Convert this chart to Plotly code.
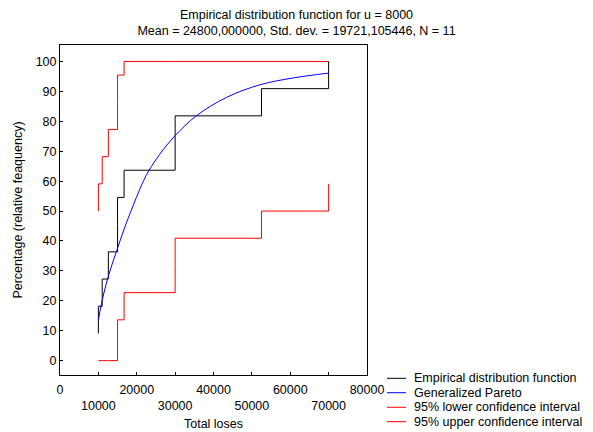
import plotly.graph_objects as go

# ---- data ----
losses = [10000, 10000, 11000, 12600, 15000, 15000, 16700, 30000, 30000, 52500, 70000]
ecdf_pct = [9.09, 18.18, 27.27, 36.36, 45.45, 54.55, 63.64, 72.73, 81.82, 90.91, 100.0]
lower_pct = [0.0, 0.0, 0.0, 0.0, 4.55, 13.64, 22.73, 31.82, 40.91, 50.0, 59.09]
upper_pct = [50.0, 59.09, 68.18, 77.27, 86.36, 95.45, 100.0, 100.0, 100.0, 100.0, 100.0]

pareto_x = [10000, 10800, 12500, 14700, 17000, 19900, 21800, 23200, 26000, 30000,
            35500, 43400, 52100, 60800, 70000]
pareto_pct = [13.5, 19.0, 27.8, 36.5, 45.0, 54.5, 60.2, 63.6, 69.0, 75.2,
              81.8, 88.0, 92.2, 94.5, 96.1]

x_ticks = [0, 10000, 20000, 30000, 40000, 50000, 60000, 70000, 80000]
x_ticktext = ["0", "<br>10000", "20000", "<br>30000", "40000", "<br>50000",
              "60000", "<br>70000", "80000"]
y_ticks = [0, 10, 20, 30, 40, 50, 60, 70, 80, 90, 100]

series_names = ["Empirical distribution function", "Generalized Pareto",
                "95% lower confidence interval", "95% upper confidence interval"]
series_colors = ["#000000", "#0000ff", "#ff0000", "#ff0000"]

FONT = "Liberation Sans, Arial, sans-serif"
FS = 12.5

fig = go.Figure()
fig.add_trace(go.Scatter(x=losses, y=upper_pct, mode="lines", line=dict(color=series_colors[3], width=1, shape="hv"),
                         name=series_names[3], showlegend=False))
fig.add_trace(go.Scatter(x=losses, y=lower_pct, mode="lines", line=dict(color=series_colors[2], width=1, shape="hv"),
                         name=series_names[2], showlegend=False))
fig.add_trace(go.Scatter(x=losses, y=ecdf_pct, mode="lines", line=dict(color=series_colors[0], width=1, shape="hv"),
                         name=series_names[0], showlegend=False))
fig.add_trace(go.Scatter(x=pareto_x, y=pareto_pct, mode="lines", line=dict(color=series_colors[1], width=1, shape="spline"),
                         name=series_names[1], showlegend=False))

# manual compact legend (paper coords relative to plot area 307x330 px)
L, T, W, H = 60, 45, 307, 330
def px2x(px):
    return (px - L) / W
def py2y(py):
    return (T + H - py) / H

leg_rows = [378.3, 392.7, 407.3, 421.7]
for name, col, ry in zip(series_names, series_colors, leg_rows):
    fig.add_shape(type="line", xref="paper", yref="paper",
                  x0=px2x(387), x1=px2x(406), y0=py2y(ry), y1=py2y(ry),
                  line=dict(color=col, width=1))
    fig.add_annotation(text=name, xref="paper", yref="paper", x=px2x(412), y=py2y(ry),
                       xanchor="left", yanchor="middle", showarrow=False,
                       font=dict(family=FONT, size=FS, color="#000000"))

axis_common = dict(showline=True, linecolor="#000000", linewidth=1, mirror=True,
                   ticks="inside", ticklen=3, tickcolor="#000000", showgrid=False,
                   zeroline=False, automargin=False,
                   tickfont=dict(family=FONT, size=FS, color="#000000"))

fig.update_layout(
    width=593, height=432,
    margin=dict(l=L, r=593 - L - W, t=T, b=432 - T - H),
    paper_bgcolor="#ffffff", plot_bgcolor="#ffffff",
    font=dict(family=FONT, size=FS, color="#000000"),
    title=dict(text="Empirical distribution function for u = 8000<br>"
                    "Mean = 24800,000000, Std. dev. = 19721,105446, N = 11",
               x=0.5, xref="container", xanchor="center",
               y=1 - 19 / 432, yref="container", yanchor="top",
               font=dict(family=FONT, size=FS, color="#000000")),
    xaxis=dict(range=[0, 80000], tickvals=x_ticks, ticktext=x_ticktext,
               ticklabelstandoff=3,
               title=dict(text="Total loses", standoff=6,
                          font=dict(family=FONT, size=FS, color="#000000")),
               **axis_common),
    yaxis=dict(range=[-4.8, 105.5], tickvals=y_ticks,
               title=dict(text="Percentage (relative feaquency)", standoff=10,
                          font=dict(family=FONT, size=FS, color="#000000")),
               **axis_common),
    showlegend=False,
)

fig.write_html("out.html")
